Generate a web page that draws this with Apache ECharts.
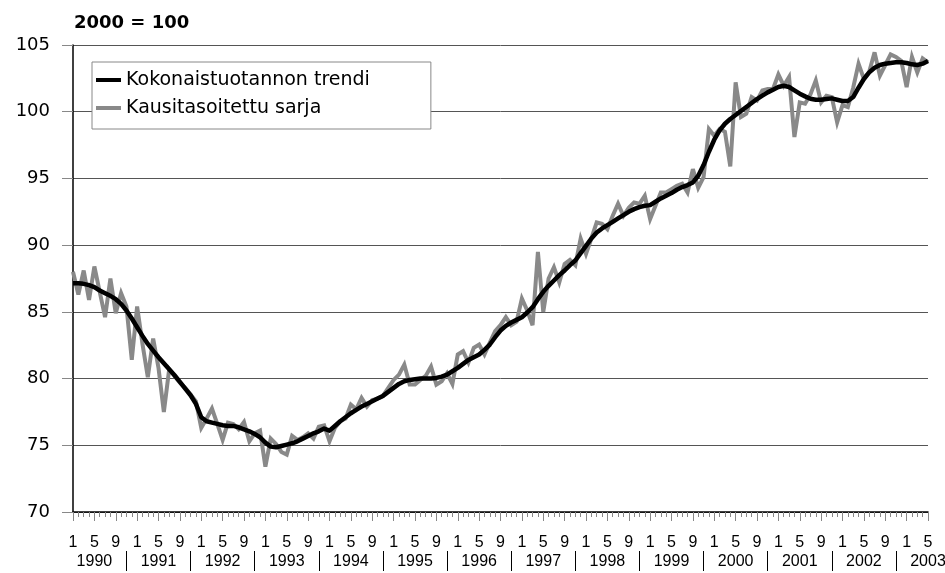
<!DOCTYPE html>
<html>
<head>
<meta charset="utf-8">
<title>Kokonaistuotannon trendi</title>
<script src="https://cdn.jsdelivr.net/npm/echarts@6/dist/echarts.min.js"></script>
<style>
    html, body { margin: 0; padding: 0; background: #fff; }
    #chart { width: 945px; height: 573px; }
</style>
</head>
<body>
<div id="chart"></div>
<script>
// vuodet ja näytettävät kuukausien numerot
var years = [1990, 1991, 1992, 1993, 1994, 1995, 1996, 1997, 1998, 1999, 2000, 2001, 2002, 2003];
var monthsShown = [1, 5, 9];

// Kokonaistuotannon trendi, 1/1990 - 5/2003
var trend = [
    87.15, 87.15, 87.1, 87.0, 86.85, 86.6, 86.4, 86.2, 85.95, 85.6, 85.1, 84.5,
    83.85, 83.2, 82.6, 82.1, 81.6, 81.15, 80.7, 80.25, 79.75, 79.25, 78.75, 78.1,
    77.1, 76.8, 76.7, 76.6, 76.5, 76.45, 76.45, 76.35, 76.2, 76.05, 75.85, 75.6,
    75.2, 74.9, 74.85, 74.95, 75.05, 75.15, 75.3, 75.5, 75.7, 75.9, 76.05, 76.25,
    76.1, 76.45, 76.8, 77.1, 77.4, 77.65, 77.9, 78.1, 78.3, 78.5, 78.7, 79.0,
    79.3, 79.6, 79.8, 79.9, 79.95, 80.0, 80.0, 80.0, 80.05, 80.15, 80.3, 80.55,
    80.8, 81.1, 81.4, 81.6, 81.8, 82.15, 82.55, 83.1, 83.6, 83.95, 84.2, 84.4,
    84.6, 84.95, 85.35, 85.95, 86.5, 86.95, 87.35, 87.75, 88.1, 88.5, 88.85, 89.4,
    89.95, 90.5, 90.95, 91.25, 91.5, 91.75, 92.0, 92.25, 92.5, 92.7, 92.85, 92.95,
    93.0, 93.25, 93.5, 93.7, 93.9, 94.15, 94.35, 94.5, 94.7, 95.2, 96.0, 97.0,
    97.9, 98.6, 99.1, 99.45, 99.75, 100.05, 100.35, 100.65, 100.95, 101.2, 101.45, 101.65,
    101.85, 101.95, 101.85, 101.6, 101.35, 101.15, 100.97, 100.9, 100.9, 100.95, 101.0, 100.9,
    100.8, 100.8, 101.1, 101.8, 102.45, 102.95, 103.3, 103.5, 103.6, 103.65, 103.7, 103.7,
    103.65, 103.55, 103.5, 103.6, 103.8
];

// Kausitasoitettu sarja
var sarja = [
    88.0, 86.3, 88.1, 85.9, 88.4, 86.5, 84.6, 87.5, 84.9, 86.4, 85.4, 81.4,
    85.4, 82.6, 80.1, 83.0, 80.8, 77.5, 80.7, 80.2, 79.7, 79.3, 78.8, 78.3,
    76.3, 77.0, 77.75, 76.6, 75.4, 76.7, 76.6, 76.2, 76.75, 75.3, 75.9, 76.1,
    73.4, 75.5, 75.1, 74.5, 74.3, 75.7, 75.4, 75.6, 75.9, 75.5, 76.4, 76.5,
    75.3, 76.3, 76.8, 77.0, 78.05, 77.7, 78.55, 77.9, 78.4, 78.5, 78.7, 79.3,
    79.9, 80.3, 81.05, 79.55, 79.55, 79.9, 80.2, 80.9, 79.55, 79.8, 80.4, 79.6,
    81.8, 82.05, 81.2, 82.3, 82.55, 81.8, 82.7, 83.55, 84.0, 84.6, 84.0, 84.25,
    86.0, 85.1, 84.0, 89.5, 85.0, 87.5, 88.35, 87.2, 88.6, 88.9, 88.5, 90.5,
    89.35, 90.5, 91.7, 91.6, 91.2, 92.2, 93.1, 92.2, 92.8, 93.2, 93.1, 93.7,
    91.95, 92.95, 93.95, 93.95, 94.2, 94.45, 94.6, 93.95, 95.7, 94.3, 95.1, 98.7,
    98.2, 98.7, 98.5, 95.9, 102.2, 99.6, 99.85, 101.1, 100.85, 101.6, 101.7, 101.7,
    102.8, 101.95, 102.6, 98.1, 100.7, 100.6, 101.3, 102.35, 100.7, 101.2, 101.1, 99.2,
    100.5, 100.35, 101.8, 103.6, 102.45, 103.0, 104.45, 102.7, 103.5, 104.3, 104.1, 103.8,
    101.85, 104.1, 102.95, 104.0, 103.7
];

// luokat muotoa "1990-1"
var categories = [];
for (var i = 0; i < trend.length; i++) {
    categories.push(years[Math.floor(i / 12)] + '-' + (i % 12 + 1));
}

function monthOf(v) { return v.split('-')[1]; }
function yearOf(v) { return v.split('-')[0]; }
function isShownMonth(i, v) { return monthsShown.indexOf(+monthOf(v)) >= 0; }

var fontWide = 'DejaVu Sans';
var fontNarrow = 'Liberation Sans';

var myChart = echarts.init(document.getElementById('chart'));

var option = {
    animation: false,
    backgroundColor: '#fff',
    title: {
        text: '2000 = 100',
        left: 74,
        top: 14,
        padding: 0,
        textStyle: { fontFamily: fontWide, fontWeight: 'bold', fontSize: 18, color: '#000' }
    },
    legend: {
        data: ['Kokonaistuotannon trendi', 'Kausitasoitettu sarja'],
        orient: 'vertical',
        left: 92,
        top: 62,
        icon: 'rect',
        itemWidth: 25,
        itemHeight: 4,
        itemGap: 8,
        padding: [8, 61, 11, 4],
        backgroundColor: '#fff',
        borderColor: '#888',
        borderWidth: 1,
        borderRadius: 0,
        selectedMode: false,
        textStyle: { fontFamily: fontWide, fontSize: 19, lineHeight: 20, color: '#000' }
    },
    grid: {
        left: 73,
        right: 17,
        top: 45,
        bottom: 61,
        containLabel: false,
        outerBoundsMode: 'none'
    },
    xAxis: [
        {
            // kuukausinumerot ja lyhyet tikit
            type: 'category',
            data: categories,
            boundaryGap: false,
            axisLine: { show: true, lineStyle: { color: '#000', width: 1.5 } },
            axisTick: { show: true, interval: 0, length: 5, lineStyle: { color: '#888' } },
            axisLabel: {
                interval: isShownMonth,
                formatter: function (v) { return monthOf(v); },
                margin: 23,
                fontSize: 16,
                fontFamily: fontNarrow,
                color: '#000'
            },
            splitLine: { show: false }
        },
        {
            // pitkät tikit 1, 5, 9
            type: 'category',
            data: categories,
            boundaryGap: false,
            position: 'bottom',
            axisLine: { show: false },
            axisTick: { show: true, interval: isShownMonth, length: 9, lineStyle: { color: '#888' } },
            axisLabel: { show: false },
            splitLine: { show: false }
        },
        {
            // vuosirivi ja erottimet
            type: 'category',
            data: categories,
            boundaryGap: false,
            position: 'bottom',
            offset: 39,
            axisLine: { show: false },
            axisTick: {
                show: true,
                interval: function (i) { return i % 12 === 10; },
                length: 20,
                lineStyle: { color: '#000' }
            },
            axisLabel: {
                interval: function (i) { return i % 12 === 4; },
                formatter: yearOf,
                margin: 3,
                fontSize: 16,
                fontFamily: fontNarrow,
                color: '#000'
            },
            splitLine: { show: false }
        }
    ],
    yAxis: {
        type: 'value',
        min: 70,
        max: 105,
        interval: 5,
        axisLine: { show: true, lineStyle: { color: '#000', width: 1.5 } },
        axisTick: { show: true, length: 11, lineStyle: { color: '#888' } },
        axisLabel: { margin: 23, fontSize: 18, fontFamily: fontWide, color: '#000' },
        splitLine: { show: true, lineStyle: { color: '#555', width: 1 } }
    },
    series: [
        {
            name: 'Kausitasoitettu sarja',
            type: 'line',
            data: sarja,
            showSymbol: false,
            symbol: 'none',
            z: 2,
            itemStyle: { color: '#898989' },
            lineStyle: { color: '#898989', width: 4, join: 'miter', miterLimit: 4 }
        },
        {
            name: 'Kokonaistuotannon trendi',
            type: 'line',
            data: trend,
            showSymbol: false,
            symbol: 'none',
            z: 3,
            itemStyle: { color: '#000' },
            lineStyle: { color: '#000', width: 4.5, join: 'round' }
        }
    ]
};

myChart.setOption(option);
</script>
</body>
</html>
